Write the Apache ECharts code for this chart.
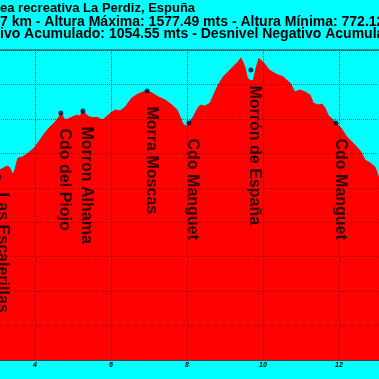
<!DOCTYPE html>
<html>
<head>
<meta charset="utf-8">
<style>html,body{margin:0;padding:0;background:#00ffff;}#c{width:379px;height:379px;}</style>
<script src="https://cdn.jsdelivr.net/npm/echarts@6/dist/echarts.min.js"></script>
</head>
<body>
<div id="c"></div>
<script>
// Title lines (visible part of the chart header)
const titleLines = [
  "ea recreativa La Perdiz, Espuña",
  "7 km - Altura Máxima: 1577.49 mts - Altura Mínima: 772.12",
  "ivo Acumulado: 1054.55 mts - Desnivel Negativo Acumulado"
];
// Distance (km) along the track
const distanceKm = [3.00,3.05,3.08,3.21,3.29,3.34,3.42,3.47,3.55,3.66,3.79,3.92,4.00,4.13,4.26,4.39,4.53,4.63,4.68,4.79,4.87,4.97,5.11,5.18,5.26,5.39,5.53,5.63,5.71,5.79,5.89,6.03,6.11,6.24,6.37,6.55,6.71,6.84,6.95,7.08,7.24,7.42,7.61,7.74,7.82,7.87,7.92,8.00,8.05,8.16,8.26,8.32,8.39,8.47,8.61,8.68,8.82,8.95,9.08,9.21,9.34,9.42,9.47,9.53,9.58,9.63,9.68,9.74,9.82,9.89,10.03,10.16,10.34,10.53,10.71,10.84,10.97,11.11,11.24,11.32,11.45,11.55,11.63,11.71,11.92,12.05,12.21,12.34,12.47,12.58,12.68,12.82,12.95,13.05,13.13];
// Elevation (m)
const elevationM = [1228,1231,1252,1260,1263,1257,1237,1252,1286,1289,1298,1310,1318,1339,1359,1376,1391,1405,1417,1397,1400,1405,1411,1408,1423,1408,1403,1405,1400,1397,1408,1420,1426,1423,1434,1461,1472,1478,1481,1475,1464,1455,1440,1426,1405,1391,1382,1379,1388,1405,1426,1437,1440,1437,1446,1464,1498,1522,1536,1551,1565,1577,1565,1548,1522,1513,1510,1510,1548,1575,1562,1542,1530,1522,1504,1478,1484,1478,1469,1446,1440,1443,1432,1411,1388,1374,1347,1333,1318,1304,1281,1272,1260,1228,1205];
// Waypoints
const waypointNames = ["Las Escalerillas","Cdo del Piojo","Morron Alhama","Morra Moscas","Cdo Manguet","Morrón de España","Cdo Manguet"];
const waypointKm = [3.05,4.68,5.26,6.95,8.05,9.68,11.92];
const waypointElev = [1231,1417,1423,1481,1388,1542,1388];
// Axis ticks
const xTicks = [2,4,6,8,10,12,14];
const yMin = 700, yMax = 1600, yStep = 100;

const chart = echarts.init(document.getElementById('c'), null, {renderer:'canvas'});
const profile = distanceKm.map((d,i)=>[d, elevationM[i]]);
const points = waypointKm.map((d,i)=>({name: waypointNames[i], value:[d, waypointElev[i]]}));
const titleTops = [2, 15, 27];
const titleSizes = [13, 14, 14];
chart.setOption({
  backgroundColor: '#00ffff',
  animation: false,
  title: titleLines.map((t,i)=>({
    text: t, left: 0, top: titleTops[i], padding: 0,
    textStyle: {fontFamily: 'Liberation Sans, Arial, sans-serif', fontWeight: 'bold', fontSize: titleSizes[i], color: '#000'}
  })),
  grid: {left: -41, right: -36, top: 50, bottom: 19, show: true, borderColor: '#333', borderWidth: 1, backgroundColor: 'transparent', containLabel: false, outerBoundsMode: 'none'},
  xAxis: {
    type: 'value', min: xTicks[0], max: xTicks[xTicks.length-1], interval: 2, z: 3,
    axisLine: {show: true, lineStyle: {color: '#444', width: 1}},
    axisTick: {show: false},
    axisLabel: {fontSize: 7, fontWeight: 'bold', fontStyle: 'italic', color: '#000', margin: 2, fontFamily: 'Liberation Sans, Arial, sans-serif'},
    splitLine: {show: true, lineStyle: {type: 'dotted', color: 'rgba(0,0,70,0.65)', width: 1}}
  },
  yAxis: {
    type: 'value', min: yMin, max: yMax, interval: yStep, z: 3,
    axisLine: {show: false}, axisTick: {show: false}, axisLabel: {show: false},
    splitLine: {show: true, lineStyle: {type: 'dotted', color: 'rgba(0,0,70,0.65)', width: 1}}
  },
  series: [
    {
      type: 'line', data: profile, symbol: 'none', smooth: false,
      lineStyle: {color: '#ff0000', width: 1},
      areaStyle: {color: '#ff0000', opacity: 1},
      z: 2
    },
    {
      type: 'scatter', data: points, symbol: 'circle', symbolSize: 5,
      itemStyle: {color: '#000040'},
      z: 4,
      label: {
        show: true, formatter: p => p.name, rotate: -90,
        position: [6.5, 18], align: 'left', verticalAlign: 'middle',
        fontFamily: 'Liberation Sans, Arial, sans-serif', fontWeight: 'bold', fontSize: 16, color: '#000'
      }
    }
  ]
});
</script>
</body>
</html>
